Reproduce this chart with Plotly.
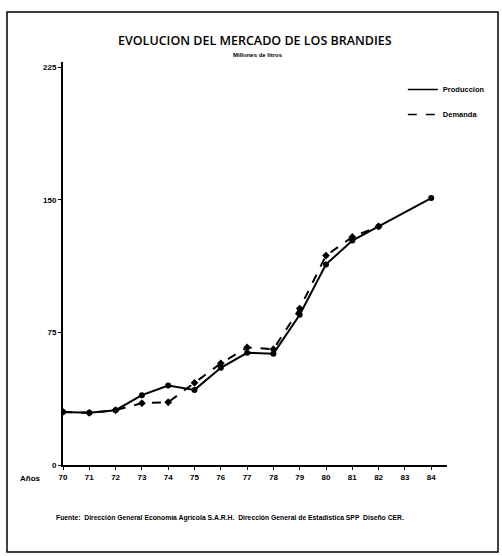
import plotly.graph_objects as go

# ---- data ----
years_prod = [70, 71, 72, 73, 74, 75, 76, 77, 78, 79, 80, 81, 82, 84]
produccion = [30, 29.5, 31, 39.5, 45, 42.5, 55, 63.5, 63, 85, 113.5, 127, 135, 151]
years_dem = [70, 71, 72, 73, 74, 75, 76, 77, 78, 79, 80, 81, 82]
demanda = [30, 29.5, 31, 35, 35.5, 46.5, 57.5, 66.5, 65.5, 88.5, 118.5, 129, 135]

tick_years = [70, 71, 72, 73, 74, 75, 76, 77, 78, 79, 80, 81, 82, 83, 84]
tick_labels = [str(y) for y in tick_years]
y_ticks = [0, 75, 150, 225]

title_text = "EVOLUCION DEL MERCADO DE LOS BRANDIES"
subtitle_text = "Millones de litros"
source_text = ("Fuente:  Dirección General Economía Agrícola S.A.R.H.  "
               "Dirección General de Estadística SPP  Diseño CER.")

BOLD = "Liberation Sans"

fig = go.Figure()

fig.add_trace(go.Scatter(
    x=years_dem, y=demanda, mode="lines+markers",
    line=dict(color="black", width=2, dash="dash"),
    marker=dict(color="black", size=6, symbol="diamond"),
    showlegend=False,
))
fig.add_trace(go.Scatter(
    x=years_prod, y=produccion, mode="lines+markers",
    line=dict(color="black", width=2),
    marker=dict(color="black", size=6),
    showlegend=False,
))
# legend-only entries (lines without markers)
fig.add_trace(go.Scatter(x=[None], y=[None], mode="lines", name="Produccion",
                         line=dict(color="black", width=1.5), legendgroup="a"))
fig.add_trace(go.Scatter(x=[None], y=[None], mode="lines", name="Demanda",
                         line=dict(color="black", width=1.5, dash="dash"), legendgroup="b"))

fig.update_layout(
    width=502, height=556,
    margin=dict(l=63, r=55, t=62, b=91),
    paper_bgcolor="white", plot_bgcolor="white",
    font=dict(family=BOLD, color="black", size=8),
    showlegend=True,
    legend=dict(x=0.885, y=0.968, xanchor="left", yanchor="top",
                bgcolor="rgba(0,0,0,0)", tracegroupgap=6,
                font=dict(size=7.5, family=BOLD, weight="bold")),
    xaxis=dict(range=[70, 84.6], tickvals=tick_years, ticktext=tick_labels,
               showgrid=False, zeroline=False, showline=True,
               linecolor="black", linewidth=2, ticks="outside", ticklen=3,
               tickcolor="black", tickfont=dict(size=8, weight="bold")),
    yaxis=dict(range=[0, 228], tickvals=y_ticks,
               showgrid=False, zeroline=False, showline=True,
               linecolor="black", linewidth=2, ticks="outside", ticklen=3,
               tickcolor="black", tickfont=dict(size=8, weight="bold")),
)

# title, subtitle, axis caption and source
fig.add_annotation(text=title_text, xref="paper", yref="paper", x=0.5, y=1,
                   yanchor="middle", xshift=0, yshift=22, showarrow=False,
                   font=dict(size=12.5, family="Open Sans", weight=600))
fig.add_annotation(text=subtitle_text, xref="paper", yref="paper", x=0.5, y=1,
                   yanchor="middle", xshift=3, yshift=7, showarrow=False,
                   font=dict(size=6, weight="bold"))
fig.add_annotation(text="Años", xref="paper", yref="paper", x=0, y=0,
                   xanchor="center", yanchor="middle", xshift=-33, yshift=-13,
                   showarrow=False, font=dict(size=8, weight="bold"))
fig.add_annotation(text=source_text, xref="paper", yref="paper", x=0, y=0,
                   xanchor="left", yanchor="middle", xshift=-9, yshift=-53,
                   showarrow=False, font=dict(size=6.8, weight="bold"))

# page frame
fig.add_shape(type="rect", xref="paper", yref="paper",
              x0=-56 / 384, x1=435 / 384, y0=-87 / 403, y1=453 / 403,
              line=dict(color="black", width=1.5), layer="below")

fig.write_html("out.html", config={"displayModeBar": False},
               post_script="document.body.style.margin='0';")
